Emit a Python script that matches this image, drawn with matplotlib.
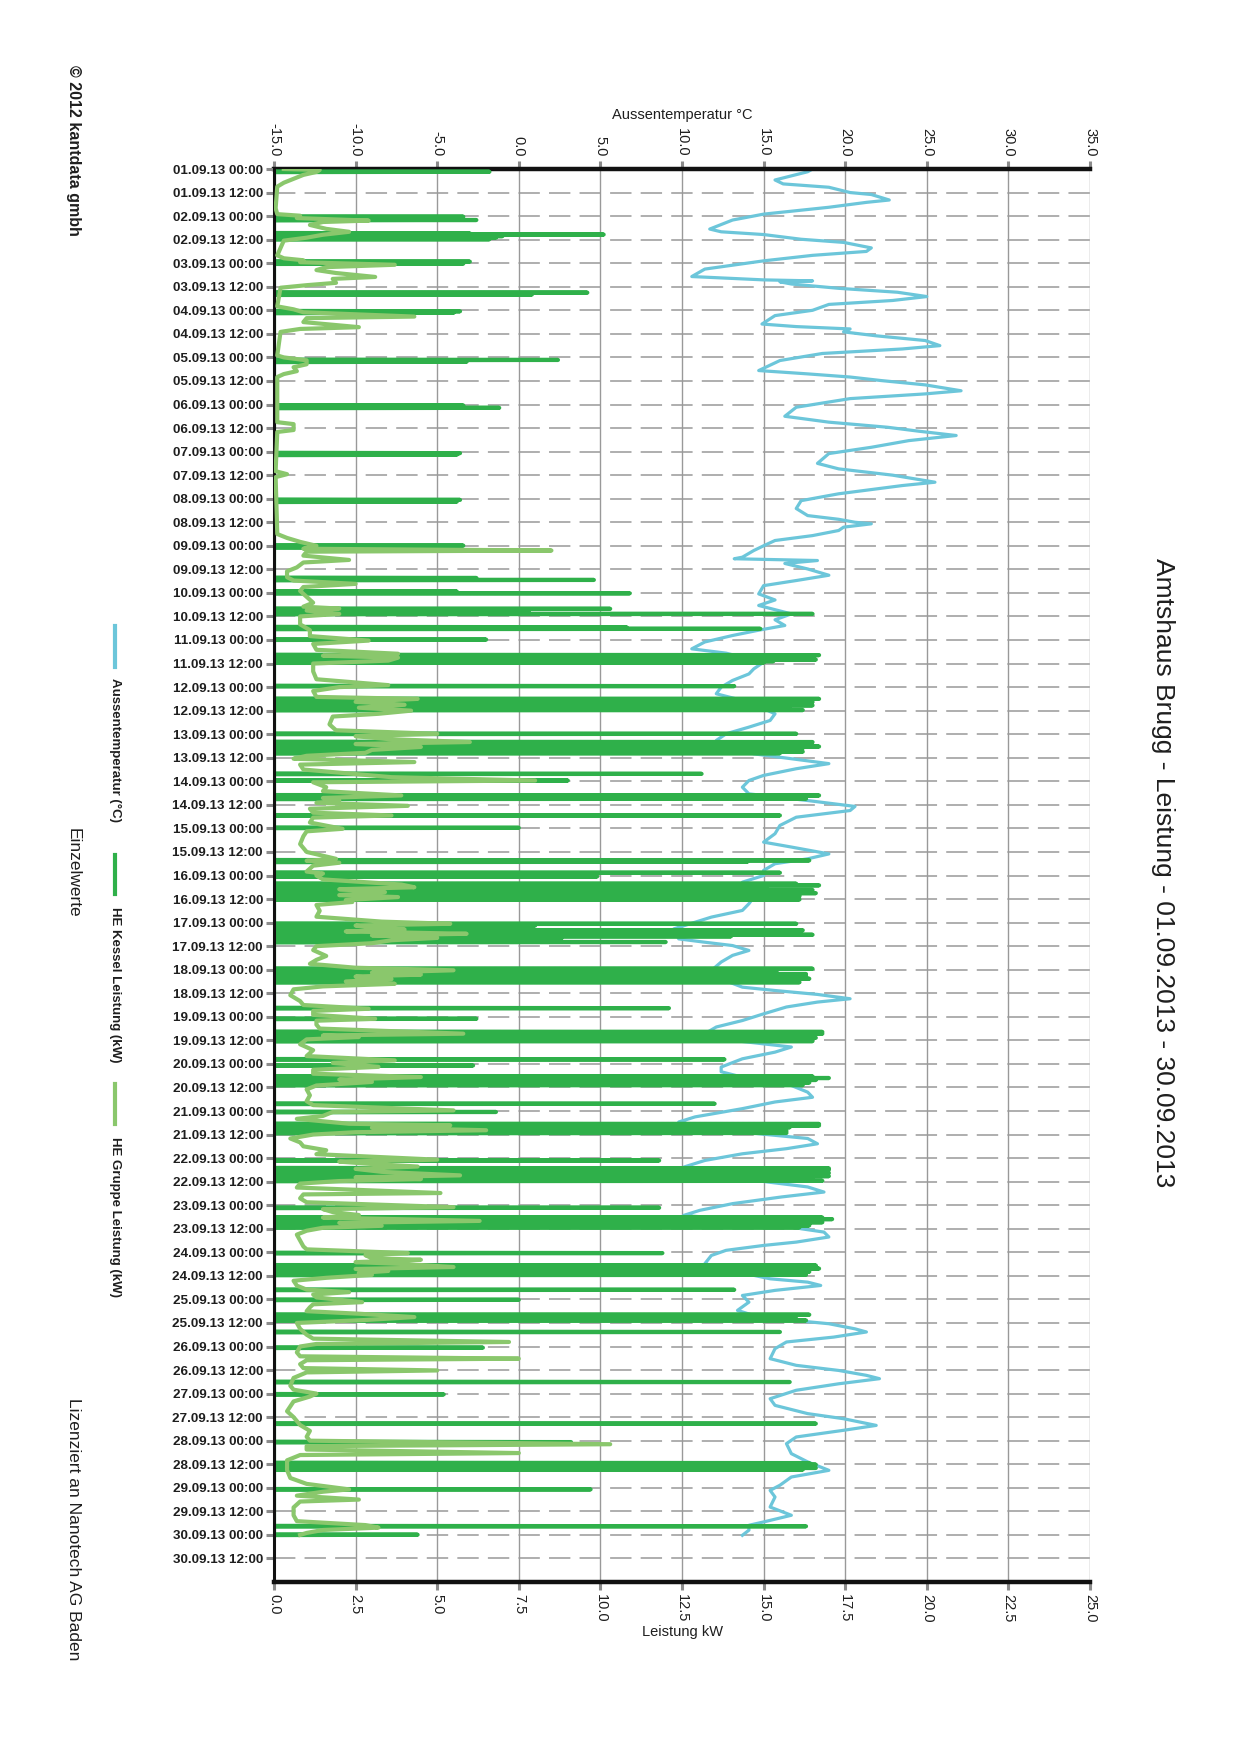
import matplotlib
matplotlib.use('Agg')
import matplotlib.pyplot as plt
import matplotlib.dates as mdates
from matplotlib.lines import Line2D
from matplotlib.ticker import MultipleLocator, FormatStrFormatter
from matplotlib import font_manager
import numpy as np
import pandas as pd

names = {f.name for f in font_manager.fontManager.ttflist}
BASE = 'Liberation Sans' if 'Liberation Sans' in names else 'DejaVu Sans'
plt.rcParams['font.family'] = [BASE, 'DejaVu Sans']
plt.rcParams['axes.unicode_minus'] = False

# ---------------- data ----------------
START = pd.Timestamp('2013-09-01 00:00')
END = pd.Timestamp('2013-10-01 00:00')
LAST_TICK = pd.Timestamp('2013-09-30 12:00')

TITLE = 'Amtshaus Brugg - Leistung - 01.09.2013 - 30.09.2013'
SERIES_NAMES = ['Aussentemperatur (°C)', 'HE Kessel Leistung (kW)', 'HE Gruppe Leistung (kW)']

# Aussentemperatur: hours since start, deg C
TEMP_H = [0, 1.4, 5.6, 7.6, 9.3, 12, 13, 15.8, 17, 19.5, 23, 26, 30.6, 32, 33.4, 35.8, 37.4, 40.2, 42, 44,
          46.8, 51, 54.8, 56.5, 57, 57.5, 58.6, 60.8, 62.8, 65, 67, 69, 72, 74.7, 79, 80.3, 81.5, 83, 85, 87.4,
          90, 91.7, 94, 97.6, 102.7, 104.4, 106, 107.8, 110, 113, 114.6, 117, 121.4, 126, 129, 131.6, 133.6,
          135.8, 138.4, 141.8, 145, 150, 152.8, 156, 159.6, 161.3, 165.5, 169, 173, 176.6, 178.5, 180, 180.8,
          182.5, 184.2, 186.8, 189.3, 192, 194.4, 197.8, 198.6, 199.5, 201, 203.8, 207, 209.7, 212.3, 216.5,
          219.6, 222.4, 226.7, 229.7, 232.6, 235, 237.7, 241, 244.5, 246.7, 248.8, 251.3, 254.7, 257.3, 260.6,
          264, 267.4, 270.8, 275, 277.6, 281, 284.4, 287.8, 291.2, 294.6, 298, 300.5, 303, 305.6, 309, 311.6,
          315, 318.4, 321.8, 324.8, 326.9, 330.3, 334.5, 338.7, 343, 345.5, 349, 351.5, 354, 357.4, 360,
          363.4, 367.6, 371, 374.4, 377.8, 381.2, 384.6, 387.2, 392.3, 394, 395.7, 398.2, 400.7, 404.1, 408.4,
          411.8, 416.9, 418.6, 420.6, 422.8, 424.5, 427, 430.5, 433.9, 437.2, 440.6, 444, 447.4, 450, 453.4,
          457.6, 460, 463.6, 467, 470.4, 473, 475.4, 478.8, 483, 485.6, 489, 491.6, 494, 496.7, 499.2, 501.8,
          505.2, 508.6, 512, 515.3, 518.7, 521.3, 523.8, 527.2, 530.6, 533.2, 535.5, 537.5, 540, 541.7, 544.2,
          546.8, 548.5, 551, 553.6, 557.8, 562, 565.5, 567.2, 568.9, 571.4, 574, 577.4, 581.6, 585, 588.4, 591,
          592.6, 595.2, 597.7, 601.1, 606.2, 609.6, 612.2, 614.7, 616.4, 619, 622.3, 626.6, 630, 634.2, 636.8,
          640.2, 642.7, 646.1, 649.5, 654.6, 658.8, 663.1, 666.5, 670.7, 673.3, 676.7, 681.8, 686, 689.4,
          691.1, 693.6, 696.2]
TEMP_C = [18.0, 17.7, 15.7, 16.2, 19.0, 20.3, 21.6, 22.7, 21.3, 19.0, 15.0, 13.1, 11.7, 12.4, 15.0, 17.3, 19.9,
          21.6, 21.3, 18.0, 15.0, 11.4, 10.6, 15.0, 18.0, 16.0, 16.7, 19.6, 23.2, 25.0, 22.9, 19.0, 18.0, 15.7,
          14.9, 17.0, 20.3, 19.9, 21.9, 24.9, 25.8, 23.5, 18.6, 16.0, 14.7, 17.7, 20.3, 22.2, 24.9, 27.1, 24.9,
          20.3, 17.0, 16.3, 19.0, 22.6, 24.5, 26.8, 23.9, 21.6, 19.0, 18.3, 19.6, 22.9, 25.5, 23.5, 19.6, 17.3,
          17.0, 17.7, 19.6, 20.6, 21.6, 19.9, 19.6, 18.0, 15.7, 15.0, 14.4, 13.7, 13.2, 18.3, 16.3, 17.7, 19.0,
          17.0, 15.0, 14.7, 15.7, 14.7, 16.7, 15.7, 16.3, 14.7, 13.1, 11.4, 10.6, 12.7, 13.7, 15.0, 14.4, 14.1,
          13.1, 12.4, 12.1, 13.7, 15.0, 15.7, 15.4, 14.1, 12.7, 12.1, 13.1, 14.4, 16.7, 19.0, 17.0, 15.0, 14.1,
          13.7, 14.1, 17.7, 20.6, 20.3, 17.0, 16.0, 15.7, 15.0, 16.7, 19.0, 17.7, 15.7, 15.0, 15.0, 13.7, 14.4,
          14.4, 14.1, 13.7, 11.8, 10.5, 9.5, 9.8, 11.4, 13.1, 14.1, 13.1, 12.4, 11.8, 12.1, 13.7, 15.7, 18.3,
          20.3, 18.3, 16.4, 15.0, 13.7, 12.1, 11.4, 13.1, 16.7, 15.7, 13.7, 12.4, 12.4, 14.1, 16.7, 17.7, 18.0,
          15.7, 13.7, 10.8, 9.8, 12.1, 14.7, 17.7, 18.3, 16.4, 13.7, 11.4, 10.1, 11.4, 14.4, 17.7, 18.7, 16.1,
          13.1, 11.1, 10.1, 13.5, 16.0, 17.3, 18.7, 19.0, 17.0, 15.0, 12.7, 11.8, 11.4, 13.4, 15.4, 17.7, 18.5,
          15.7, 13.7, 14.1, 13.4, 14.7, 19.0, 20.6, 21.3, 19.3, 16.4, 15.7, 15.4, 17.0, 19.6, 21.3, 22.1, 19.6,
          17.0, 15.4, 15.7, 17.7, 19.9, 21.9, 19.9, 17.0, 16.4, 16.7, 17.7, 19.0, 16.7, 16.0, 15.4, 15.7, 15.4,
          16.7, 15.0, 14.1, 14.1, 13.7]

# HE Kessel Leistung: burner pulses (hours since start, kW)
KESSEL_H = [1.4, 24.3, 26.0, 32.8, 33.4, 34.2, 35.0, 35.8, 47.2, 48.2, 63.0, 64.0, 72.5, 73.3, 97.3, 98.2,
            120.5, 121.7, 144.8, 145.6, 168.6, 169.5, 191.9, 192.8, 208.4, 209.4, 215.3, 216.2, 224.1, 225.5,
            226.7, 233.5, 234.3, 239.8, 247.7, 248.4, 249.2, 250.0, 250.8, 251.5, 263.5, 270.0, 270.8, 271.6,
            272.5, 273.3, 274.1, 274.9, 275.7, 287.8, 292.0, 292.8, 293.5, 294.3, 295.1, 296.1, 296.9, 297.7,
            308.2, 311.6, 319.2, 320.0, 320.9, 329.4, 335.7, 352.3, 353.0, 358.6, 360.5, 364.2, 365.0, 365.8,
            366.6, 367.4, 368.2, 369.0, 369.8, 370.6, 371.4, 372.2, 384.6, 385.5, 386.5, 387.9, 388.8, 390.2,
            391.0, 392.2, 393.9, 407.5, 408.4, 409.2, 410.2, 411.4, 412.6, 413.4, 414.4, 427.6, 433.0, 439.7,
            440.6, 441.8, 442.7, 444.4, 453.7, 456.8, 462.4, 463.2, 464.2, 465.5, 466.8, 476.3, 480.5, 486.6,
            487.4, 488.3, 489.2, 490.2, 491.2, 505.2, 509.2, 510.0, 510.8, 511.6, 512.4, 513.2, 514.0, 514.8,
            515.6, 529.3, 534.3, 535.1, 535.9, 536.7, 537.5, 538.3, 539.3, 552.4, 558.7, 559.5, 560.3, 561.1,
            561.9, 562.7, 563.5, 571.1, 576.2, 583.8, 584.8, 585.8, 586.7, 592.6, 600.6, 618.1, 624.4, 639.3,
            648.7, 659.4, 660.2, 661.0, 661.9, 662.7, 672.8, 691.6, 695.9]
KESSEL_KW = [6.6, 5.8, 6.2, 6.0, 10.1, 7.0, 6.8, 6.6, 6.0, 5.8, 9.6, 7.9, 5.7, 5.5, 8.7, 5.9,
             5.8, 6.9, 5.7, 5.6, 5.7, 5.6, 5.8, 5.3, 6.2, 9.8, 5.6, 10.9, 10.3, 7.8,
             16.5, 10.8, 14.9, 6.5, 16.7, 16.5, 13.7, 16.6, 15.3, 15.0, 14.1, 16.7, 15.0, 16.5,
             16.0, 16.5, 12.4, 15.8, 16.2, 16.0, 16.5, 11.2, 16.5, 16.7, 16.2, 15.8, 16.2, 15.5,
             13.1, 9.0, 16.7, 14.2, 16.3, 15.5, 7.5, 16.4, 14.5, 15.5, 9.9, 16.0, 16.7, 15.0,
             15.1, 16.5, 16.3, 16.6, 16.0, 16.1, 15.5, 16.1, 16.0, 8.0, 4.0, 16.2, 15.5, 16.5,
             14.0, 8.8, 12.0, 16.5, 12.2, 15.4, 16.3, 16.3, 16.4, 16.0, 16.1, 12.1, 6.2, 16.8,
             16.8, 15.0, 16.6, 16.5, 13.8, 6.1, 16.5, 17.0, 16.6, 16.4, 16.2, 13.5, 6.8, 16.7,
             16.7, 15.8, 15.0, 15.7, 15.7, 11.8, 17.0, 17.0, 16.7, 17.0, 16.0, 17.0, 16.5, 16.0,
             16.8, 11.8, 16.8, 17.1, 16.5, 16.8, 16.4, 16.4, 16.1, 11.9, 16.6, 16.6, 16.7, 11.3,
             16.4, 16.2, 16.3, 14.1, 7.5, 16.4, 15.5, 16.0, 16.3, 15.5, 6.4, 15.8, 5.2, 16.6,
             9.1, 16.4, 16.6, 16.3, 16.6, 16.2, 9.7, 16.3, 4.4]

# HE Gruppe Leistung (hours since start, kW)
GRUPPE_H = [0, 0.5, 1.5, 3, 5, 7, 9, 20, 23, 23.8, 25, 26.3, 27, 28.5, 30.5, 32, 33.5, 35, 36.5, 44, 45.5, 46.5,
            47.5, 48.8, 50, 51.5, 53, 55, 56, 58, 59.2, 60.5, 70, 71.5, 73, 75.2, 76, 78, 80.6, 81.5, 83, 95, 96,
            97.5, 99.5, 101, 103, 104.5, 106, 129, 130, 131.5, 133, 134, 154, 155.5, 157, 186, 188, 190, 192,
            193.5, 194.4, 195, 197, 199.2, 200.5, 203, 205, 208, 209.7, 211.4, 213, 215, 218, 221, 223, 224, 225,
            226.7, 228, 232, 235, 238, 240.3, 242, 245, 247, 248, 249, 250.5, 252, 256, 260, 263, 264, 266, 269,
            270, 271.5, 273, 274.5, 276, 277.6, 279, 283, 286, 287.8, 289, 290.5, 292, 293, 294.5, 296, 297.5,
            299, 300.5, 302.2, 303.5, 306, 309.9, 311.6, 312.5, 315, 317, 319.2, 320.5, 321.8, 323, 324.5, 326,
            328, 329.4, 330.5, 333, 336.2, 337.5, 340, 344, 348, 351.5, 352.5, 353.5, 355, 358, 359, 360, 362,
            364.6, 366, 367, 368.5, 370, 371, 372.5, 373.5, 375, 378, 381, 383.5, 384.6, 385.5, 386.5, 387.5,
            388.5, 389.7, 390.5, 391.8, 393, 394.5, 396, 398, 401, 403, 405, 407, 408.3, 409.5, 410.5, 411.5,
            412.8, 414, 415.2, 416.5, 418, 421, 424, 426, 427.9, 429, 431, 433, 434, 436, 438, 440.6, 441.5,
            442.3, 443.5, 446, 449, 452, 454.2, 455.5, 457.5, 459, 461, 462.7, 464, 465.2, 467, 469, 472, 475,
            477, 479.7, 480.5, 482.5, 484, 486.5, 487.3, 488.5, 489.8, 490.8, 492, 494, 496, 498, 500, 502,
            504.8, 505.8, 507, 508.3, 509.5, 511, 512.8, 513.8, 514.7, 515.7, 517, 519, 521.8, 522.5, 524.5,
            526.5, 529, 530, 531.5, 533, 534.3, 536, 537, 538.5, 539.5, 541, 543, 546, 549, 550.5, 552.4, 553.5,
            555, 555.8, 557, 558, 559.5, 560.5, 561.5, 562.5, 563.5, 565, 566.5, 569, 571, 572.3, 573.5, 575,
            577.4, 578.5, 580, 582, 583.3, 585, 586.5, 588, 591, 594, 596, 597.7, 598.7, 600, 603, 605, 606.2,
            607, 609, 611, 612.2, 613.2, 616, 620, 622, 624, 625.5, 628, 633, 636, 640, 643, 646, 648, 649.8,
            650.8, 652.5, 654.3, 655.3, 658, 663, 667, 670, 672.8, 674, 676, 678, 679, 682, 686, 689, 691,
            692.3, 693.5, 695, 696]
GRUPPE_KW = [0.3, 1.4, 1.3, 0.9, 0.6, 0.3, 0.1, 0.05, 0.1, 0.8, 0.7, 2.9, 1.5, 1.1, 1.6, 2.3, 1.5, 1.0, 0.3, 0.1,
             0.3, 0.9, 0.8, 3.7, 1.6, 1.3, 1.9, 3.1, 1.8, 1.9, 1.0, 0.2, 0.1, 0.6, 0.9, 4.3, 1.0, 0.9, 2.6, 0.8,
             0.2, 0.1, 0.3, 1.0, 1.0, 0.6, 0.7, 0.3, 0.1, 0.1, 0.6, 0.6, 0.6, 0.1, 0.05, 0.4, 0.05, 0.1, 0.4,
             0.8, 1.3, 0.9, 8.5, 1.0, 0.9, 2.3, 0.9, 0.7, 0.4, 0.4, 0.6, 2.5, 0.9, 0.8, 1.0, 1.2, 0.9, 2.0, 1.0,
             2.0, 0.8, 0.8, 1.1, 1.1, 2.9, 1.2, 1.3, 3.8, 1.5, 3.8, 3.5, 1.2, 1.2, 1.3, 3.5, 2.0, 1.2, 1.3,
             4.4, 2.5, 4.0, 2.6, 4.2, 3.2, 1.8, 1.7, 1.9, 5.0, 2.5, 3.5, 6.0, 2.5, 4.5, 3.0, 2.8,
             1.0, 0.6, 4.3, 0.8, 0.9, 3.6, 8.0, 1.2, 1.6, 1.5, 3.9, 1.5, 2.0, 1.3, 4.1, 1.1,
             1.2, 3.6, 1.2, 1.1, 2.1, 1.0, 0.9, 0.8, 1.0, 1.9, 1.0, 2.0, 1.2, 1.0, 1.5, 1.3, 1.5,
             3.9, 4.3, 2.0, 3.4, 2.0, 3.8, 2.2, 2.4, 1.3, 1.4, 1.3, 3.3, 5.4, 2.5, 3.0, 4.0,
             2.2, 5.9, 3.0, 5.0, 3.6, 3.0, 1.3, 1.2, 1.6, 1.3, 1.1, 2.5, 5.5, 3.0, 4.5, 2.5,
             3.6, 2.2, 3.7, 1.5, 0.6, 0.5, 0.8, 0.9, 2.9, 1.2, 1.2, 3.1, 1.3, 1.3, 1.4, 5.8, 1.5,
             2.6, 1.0, 0.8, 1.2, 1.0, 3.7, 1.8, 3.2, 1.2, 1.2, 4.5, 2.0, 3.0, 1.3, 1.0, 1.1, 1.0,
             1.2, 5.5, 1.8, 1.5, 0.7, 2.3, 5.4, 3.0, 6.5, 2.5, 1.2, 0.5, 0.8, 0.9, 1.6, 1.3,
             5.0, 2.0, 3.0, 4.4, 2.5, 3.3, 5.7, 2.5, 4.5, 2.0, 0.8, 0.7, 5.1, 0.9, 0.8,
             1.0, 5.5, 1.5, 1.8, 2.6, 1.5, 6.3, 2.0, 3.3, 1.5, 1.0, 0.7, 0.8, 0.9, 1.0, 4.1, 2.8,
             3.0, 4.5, 2.5, 4.0, 5.5, 2.5, 3.5, 2.6, 3.0, 1.6, 0.6, 0.7, 1.0, 2.3, 1.2, 1.3,
             2.7, 1.2, 1.1, 1.0, 2.6, 4.3, 2.8, 0.7, 0.8, 1.0, 1.2, 7.2, 1.3, 0.8, 0.7, 0.8, 7.5,
             1.0, 0.8, 0.9, 5.0, 1.0, 0.6, 0.5, 0.6, 1.3, 1.1, 0.6, 0.4, 0.6, 0.8, 1.1, 1.0, 1.1, 10.3,
             1.0, 1.0, 7.5, 0.8, 0.4, 0.4, 0.5, 1.0, 2.3, 1.5, 0.7, 2.6, 0.8, 0.6, 0.6, 0.7, 2.8,
             3.2, 1.5, 1.0, 0.8]

POWER_TICKS = np.arange(0, 25.01, 2.5)
TEMP_TICKS = np.arange(-15, 35.01, 5)

# ---------------- colours ----------------
C_TEMP = '#6cc6da'
C_KESSEL = '#2fb04a'
C_GRUPPE = '#8ac76c'
C_GRID = '#999999'
C_TEXT = '#1e1e1e'


def to_time(hours):
    return START + pd.to_timedelta(np.asarray(hours, dtype=float), unit='h')


# pulse path for the boiler: each pulse rises from 0 and returns to 0
kh, kv = [], []
for h, v in zip(KESSEL_H, KESSEL_KW):
    kh += [h - 0.2, h, h + 0.2]
    kv += [0.0, v, 0.0]
kh = [0.0] + kh + [696.2]
kv = [0.0] + kv + [0.0]

W, H = 1240, 1754
fig = plt.figure(figsize=(W / 100, H / 100), dpi=100)
fig.patch.set_facecolor('white')

L, R, T, B = 274, 1090, 169, 1582
rect = [L / W, 1 - B / H, (R - L) / W, (B - T) / H]
ax_p = fig.add_axes(rect)          # power, bottom axis
ax_t = ax_p.twiny()                # temperature, top axis

ax_t.set_zorder(0)
ax_p.set_zorder(1)
ax_p.patch.set_visible(False)
ax_t.patch.set_visible(True)
ax_t.patch.set_facecolor('white')

# grid on the lower (temperature) axes
ax_t.yaxis.set_visible(True)
ax_t.set_axisbelow(True)
ax_t.grid(axis='x', color=C_GRID, lw=1.0, ls='-')
ax_t.grid(axis='y', color=C_GRID, lw=1.1, ls=(0, (14, 6)))
ax_t.tick_params(axis='y', left=False, right=False, labelleft=False, labelright=False)

# data
ax_t.plot(TEMP_C, to_time(TEMP_H), color=C_TEMP, lw=2.3, solid_joinstyle='round', zorder=2)
ax_p.plot(kv, to_time(kh), color=C_KESSEL, lw=3.0, solid_joinstyle='round', zorder=2)
ax_p.plot(GRUPPE_KW, to_time(GRUPPE_H), color=C_GRUPPE, lw=3.0, solid_joinstyle='round', zorder=3)

# limits
ax_p.set_xlim(0, 25)
ax_t.set_xlim(-15, 35)
ax_p.set_ylim(END, START)

# ticks
ax_p.set_xticks(POWER_TICKS)
ax_p.xaxis.set_major_formatter(FormatStrFormatter('%.1f'))
ax_t.set_xticks(TEMP_TICKS)
ax_t.xaxis.set_major_formatter(FormatStrFormatter('%.1f'))
yt = pd.date_range(START, LAST_TICK, freq='12h')
ax_p.set_yticks(yt)
ax_p.yaxis.set_major_formatter(mdates.DateFormatter('%d.%m.%y %H:%M'))

ax_p.tick_params(axis='x', which='major', direction='out', length=6, width=2.2, color='#8c8c8c',
                 labelsize=10.5, labelcolor=C_TEXT, pad=3, labelrotation=-90)
ax_t.tick_params(axis='x', which='major', direction='out', length=6, width=2.2, color='#8c8c8c',
                 labelsize=10.5, labelcolor=C_TEXT, pad=3, labelrotation=-90)
ax_p.tick_params(axis='y', which='major', direction='out', length=6, width=2.2, color='#8c8c8c',
                 labelsize=9.7, labelcolor=C_TEXT, pad=2)
for lab in ax_p.get_yticklabels():
    lab.set_fontweight('bold')

# spines
for sp in ['right', 'top']:
    ax_p.spines[sp].set_visible(False)
for sp in ['right', 'left', 'bottom']:
    ax_t.spines[sp].set_visible(False)
ax_p.spines['left'].set_linewidth(2.2)
ax_p.spines['left'].set_color('#111111')
ax_p.spines['bottom'].set_linewidth(3.2)
ax_p.spines['bottom'].set_color('#111111')
ax_t.spines['top'].set_linewidth(3.2)
ax_t.spines['top'].set_color('#111111')

# axis labels
ax_t.set_xlabel('Aussentemperatur °C', fontsize=10.5, color=C_TEXT)
ax_t.xaxis.set_label_coords(0.5, (B - 115) / (B - T))
ax_t.xaxis.label.set_va('center')
ax_p.set_xlabel('Leistung kW', fontsize=10.5, color=C_TEXT)
ax_p.xaxis.set_label_coords(0.5, (B - 1632) / (B - T))
ax_p.xaxis.label.set_va('center')

# title and side texts
fig.text(1163 / W, 1 - 873 / H, TITLE, rotation=-90, fontsize=19, ha='center', va='center', color=C_TEXT)
fig.text(73 / W, 1 - 150 / H, '© 2012 kantdata gmbh', rotation=-90, fontsize=11.5, fontweight='bold',
         ha='center', va='center', color=C_TEXT)
fig.text(73 / W, 1 - 873 / H, 'Einzelwerte', rotation=-90, fontsize=12.5, ha='center', va='center', color=C_TEXT)
fig.text(73 / W, 1 - 1529 / H, 'Lizenziert an Nanotech AG Baden', rotation=-90, fontsize=12.5,
         ha='center', va='center', color=C_TEXT)

# manual vertical legend
leg_x = 115 / W
legend_items = [(C_TEMP, 626, 667, 750), (C_KESSEL, 855, 894, 985), (C_GRUPPE, 1084, 1124, 1217)]
for (col, y0, y1, yl), name in zip(legend_items, SERIES_NAMES):
    fig.add_artist(Line2D([leg_x, leg_x], [1 - y0 / H, 1 - y1 / H], color=col, lw=3.0,
                          transform=fig.transFigure))
    fig.text(leg_x, 1 - yl / H, name, rotation=-90, fontsize=9.5, fontweight='bold',
             ha='center', va='center', color=C_TEXT)

fig.savefig('out.png', dpi=100, facecolor='white')
